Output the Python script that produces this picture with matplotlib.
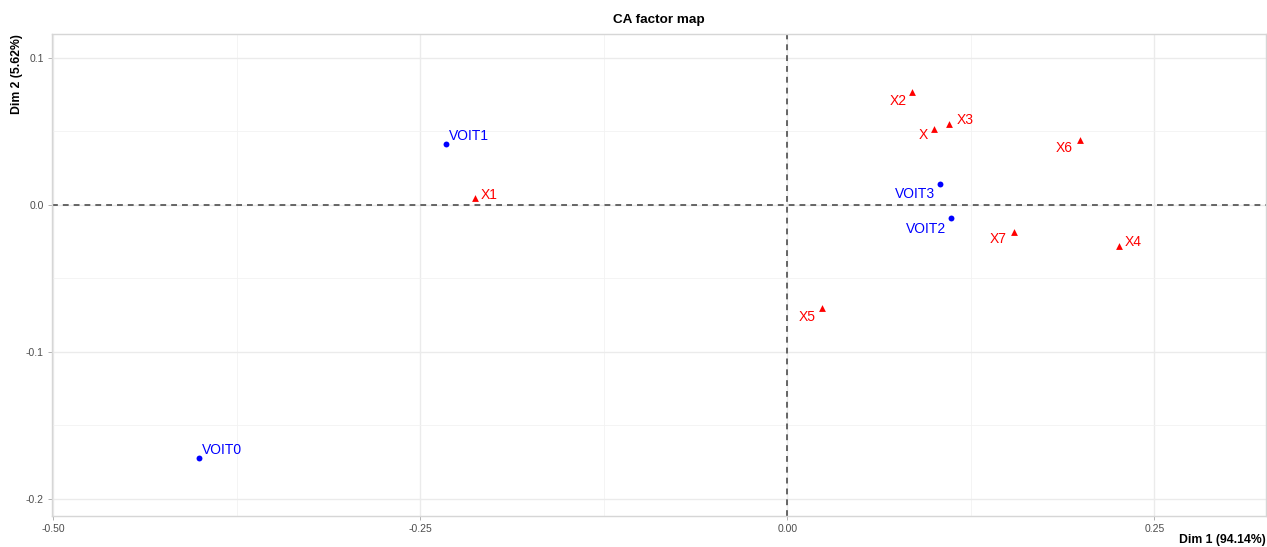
import matplotlib.pyplot as plt
from matplotlib.ticker import MultipleLocator

plt.rcParams['font.family'] = ['Liberation Sans', 'DejaVu Sans']

# rows (blue) and columns (red) of the CA
row_names = ['VOIT0', 'VOIT1', 'VOIT2', 'VOIT3']
row_dim1 = [-0.4005, -0.2323, 0.1117, 0.1038]
row_dim2 = [-0.1724, 0.0413, -0.0086, 0.0143]

col_names = ['X', 'X1', 'X2', 'X3', 'X4', 'X5', 'X6', 'X7']
col_dim1 = [0.0999, -0.2125, 0.0852, 0.1104, 0.2262, 0.0238, 0.1991, 0.1542]
col_dim2 = [0.0513, 0.0046, 0.0765, 0.0547, -0.0279, -0.0703, 0.0440, -0.0186]

# label offsets (points) and alignment, like ggrepel placement
row_off = {'VOIT0': (2, 6, 'left'), 'VOIT1': (2, 6, 'left'),
           'VOIT2': (-4, -8, 'right'), 'VOIT3': (-3, -7, 'right')}
col_off = {'X': (-4, -4, 'right'), 'X1': (4, 2, 'left'), 'X2': (-4, -6, 'right'),
           'X3': (5, 3, 'left'), 'X4': (4, 3, 'left'), 'X5': (-5, -6, 'right'),
           'X6': (-5, -6, 'right'), 'X7': (-5, -5, 'right')}

fig = plt.figure(figsize=(12.67, 5.47), dpi=100)
ax = fig.add_axes([52 / 1267, 1 - 516 / 547, 1214 / 1267, 482 / 547])

ax.set_xlim(-0.5007, 0.326)
ax.set_ylim(-0.2116, 0.1162)
ax.xaxis.set_major_locator(MultipleLocator(0.25))
ax.xaxis.set_minor_locator(MultipleLocator(0.125))
ax.yaxis.set_major_locator(MultipleLocator(0.1))
ax.yaxis.set_minor_locator(MultipleLocator(0.05))
ax.set_xticks([-0.5, -0.25, 0, 0.25])
ax.set_xticklabels(['-0.50', '-0.25', '0.00', '0.25'])
ax.set_yticks([-0.2, -0.1, 0, 0.1])
ax.set_yticklabels(['-0.2', '-0.1', '0.0', '0.1'])

ax.grid(True, which='major', color='#EBEBEB', lw=1.0, zorder=0)
ax.grid(True, which='minor', color='#F2F2F2', lw=0.6, zorder=0)
ax.set_axisbelow(True)
for s in ax.spines.values():
    s.set_color('#D6D6D6')
    s.set_linewidth(1.0)
ax.tick_params(which='major', length=3, width=0.7, color='#B3B3B3',
               labelsize=7.5, labelcolor='#4D4D4D', pad=3)
ax.tick_params(which='minor', length=0)

ax.axhline(0, color='#4D4D4D', ls=(0, (3.5, 3)), lw=1.2, zorder=1)
ax.axvline(0, color='#4D4D4D', ls=(0, (3.5, 3)), lw=1.2, zorder=1)

ax.scatter(row_dim1, row_dim2, s=18, color='#0000FF', marker='o', zorder=3, linewidths=0)
ax.scatter(col_dim1, col_dim2, s=24, color='#FF0000', marker='^', zorder=3, linewidths=0)

for n, x, y in zip(row_names, row_dim1, row_dim2):
    dx, dy, ha = row_off[n]
    ax.annotate(n, (x, y), xytext=(dx, dy), textcoords='offset points',
                ha=ha, va='center', color='#0000FF', fontsize=10)
for n, x, y in zip(col_names, col_dim1, col_dim2):
    dx, dy, ha = col_off[n]
    ax.annotate(n, (x, y), xytext=(dx, dy), textcoords='offset points',
                ha=ha, va='center', color='#FF0000', fontsize=10)

fig.text(659 / 1267, 1 - 20 / 547, 'CA factor map', ha='center', va='center',
         fontsize=9.7, fontweight='bold')
fig.text(1266 / 1267, 1 - 540 / 547, 'Dim 1 (94.14%)', ha='right', va='center',
         fontsize=8.8, fontweight='bold')
fig.text(17 / 1267, 1 - 34 / 547, 'Dim 2 (5.62%)', ha='center', va='top',
         rotation=90, fontsize=8.8, fontweight='bold')

fig.savefig('out.png', dpi=100)
